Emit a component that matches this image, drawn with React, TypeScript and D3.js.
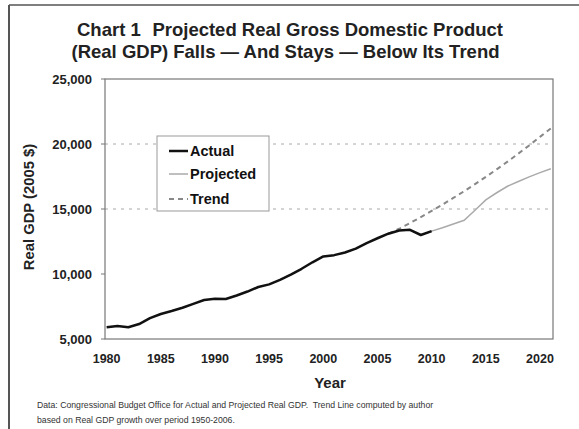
import React from "react";
import * as d3 from "d3";

const actualYears = [1980,1981,1982,1983,1984,1985,1986,1987,1988,1989,1990,1991,1992,1993,1994,1995,1996,1997,1998,1999,2000,2001,2002,2003,2004,2005,2006,2007,2008,2009,2010];
const actualValues = [5900,6000,5900,6150,6600,6920,7150,7400,7700,8000,8100,8080,8350,8650,9000,9200,9550,9950,10400,10900,11350,11450,11650,11950,12380,12750,13100,13350,13400,13000,13300];

const projectedYears = [2010,2011,2012,2013,2014,2015,2016,2017,2018,2019,2020,2021];
const projectedValues = [13300,13560,13850,14130,14900,15700,16250,16750,17120,17470,17800,18100];

const trendYears = [2006,2007,2008,2009,2010,2011,2012,2013,2014,2015,2016,2017,2018,2019,2020,2021];
const trendValues = [13100,13480,13920,14380,14850,15340,15850,16370,16910,17470,18050,18640,19260,19890,20550,21200];

const yTicks = [5000,10000,15000,20000,25000];
const xTicks = [1980,1985,1990,1995,2000,2005,2010,2015,2020];
const gridValues = [15000,20000];

const titleLine1a = "Chart 1";
const titleLine1b = "Projected Real Gross Domestic Product";
const titleLine2 = "(Real GDP) Falls \u2014 And Stays \u2014 Below Its Trend";
const yLabel = "Real GDP (2005 $)";
const xLabel = "Year";
const note1 = "Data: Congressional Budget Office for Actual and Projected Real GDP.  Trend Line computed by author";
const note2 = "based on Real GDP growth over period 1950-2006.";
const legendItems = ["Actual", "Projected", "Trend"];

const W = 579, H = 429;
const left = 105, right = 553, top = 79, bottom = 339;

export default function App() {
  const x = d3.scaleLinear().domain([1979.85, 2021.2]).range([left, right]);
  const y = d3.scaleLinear().domain([5000, 25000]).range([bottom, top]);
  const line = d3.line<[number, number]>().x(d => x(d[0])).y(d => y(d[1]));
  const zip = (a: number[], b: number[]) => a.map((v, i) => [v, b[i]] as [number, number]);

  const font = "'Liberation Sans', Arial, sans-serif";
  const legendStyles = [
    { stroke: "#111", width: 2.5, dash: undefined as string | undefined },
    { stroke: "#aaa", width: 1.5, dash: undefined },
    { stroke: "#888", width: 2, dash: "5,4" },
  ];

  return (
    <svg width={W} height={H} style={{ position: "absolute", left: 0, top: 0, background: "#fff" }} fontFamily={font}>
      <rect x={0} y={0} width={W} height={H} fill="#fff" />
      {/* outer frame */}
      <line x1={9} y1={5} x2={W} y2={5} stroke="#555" strokeWidth={1.5} />
      <line x1={9} y1={5} x2={9} y2={H} stroke="#555" strokeWidth={2} />

      {/* title */}
      <text x={77} y={36} fontSize={18.5} fontWeight="bold" fill="#222">{titleLine1a}</text>
      <text x={503} y={36} fontSize={18.5} fontWeight="bold" fill="#222" textAnchor="end">{titleLine1b}</text>
      <text x={285.5} y={58} fontSize={18.5} fontWeight="bold" fill="#222" textAnchor="middle">{titleLine2}</text>

      {/* gridlines */}
      {gridValues.map(v => (
        <line key={v} x1={left} x2={right} y1={y(v)} y2={y(v)} stroke="#aaa" strokeWidth={1} strokeDasharray="3,5" />
      ))}

      {/* plot frame */}
      <rect x={left} y={top} width={right - left} height={bottom - top} fill="none" stroke="#777" strokeWidth={1.2} />

      {/* y ticks */}
      {yTicks.map(v => (
        <g key={v}>
          <line x1={left - 4} x2={left} y1={y(v)} y2={y(v)} stroke="#777" />
          <text x={92} y={y(v) + 4.5} fontSize={13} fontWeight="bold" textAnchor="end" fill="#222">{d3.format(",")(v)}</text>
        </g>
      ))}
      {/* x ticks */}
      {xTicks.map(v => (
        <text key={v} x={x(v)} y={363} fontSize={12.5} fontWeight="bold" textAnchor="middle" fill="#222">{v}</text>
      ))}

      <text x={330} y={388} fontSize={15} fontWeight="bold" textAnchor="middle" fill="#222">{xLabel}</text>
      <text transform="translate(34,207) rotate(-90)" fontSize={14.8} fontWeight="bold" textAnchor="middle" fill="#222">{yLabel}</text>

      {/* series */}
      <path d={line(zip(trendYears, trendValues)) || ""} fill="none" stroke="#888" strokeWidth={2} strokeDasharray="5,4" />
      <path d={line(zip(projectedYears, projectedValues)) || ""} fill="none" stroke="#aaa" strokeWidth={1.5} />
      <path d={line(zip(actualYears, actualValues)) || ""} fill="none" stroke="#111" strokeWidth={2.5} strokeLinejoin="round" />

      {/* legend */}
      <rect x={157} y={136} width={112} height={75} fill="#fff" stroke="#999" strokeWidth={1} />
      {legendItems.map((name, i) => {
        const cy = [151, 174, 199][i];
        const s = legendStyles[i];
        return (
          <g key={name}>
            <line x1={169} x2={188} y1={cy} y2={cy} stroke={s.stroke} strokeWidth={s.width} strokeDasharray={s.dash} />
            <text x={190} y={cy + 5} fontSize={14.5} fontWeight="bold" fill="#111">{name}</text>
          </g>
        );
      })}

      {/* notes */}
      <text x={37} y={408} fontSize={8.7} fill="#333" style={{ whiteSpace: "pre" }}>{note1}</text>
      <text x={37} y={423} fontSize={8.7} fill="#333" style={{ whiteSpace: "pre" }}>{note2}</text>
    </svg>
  );
}
